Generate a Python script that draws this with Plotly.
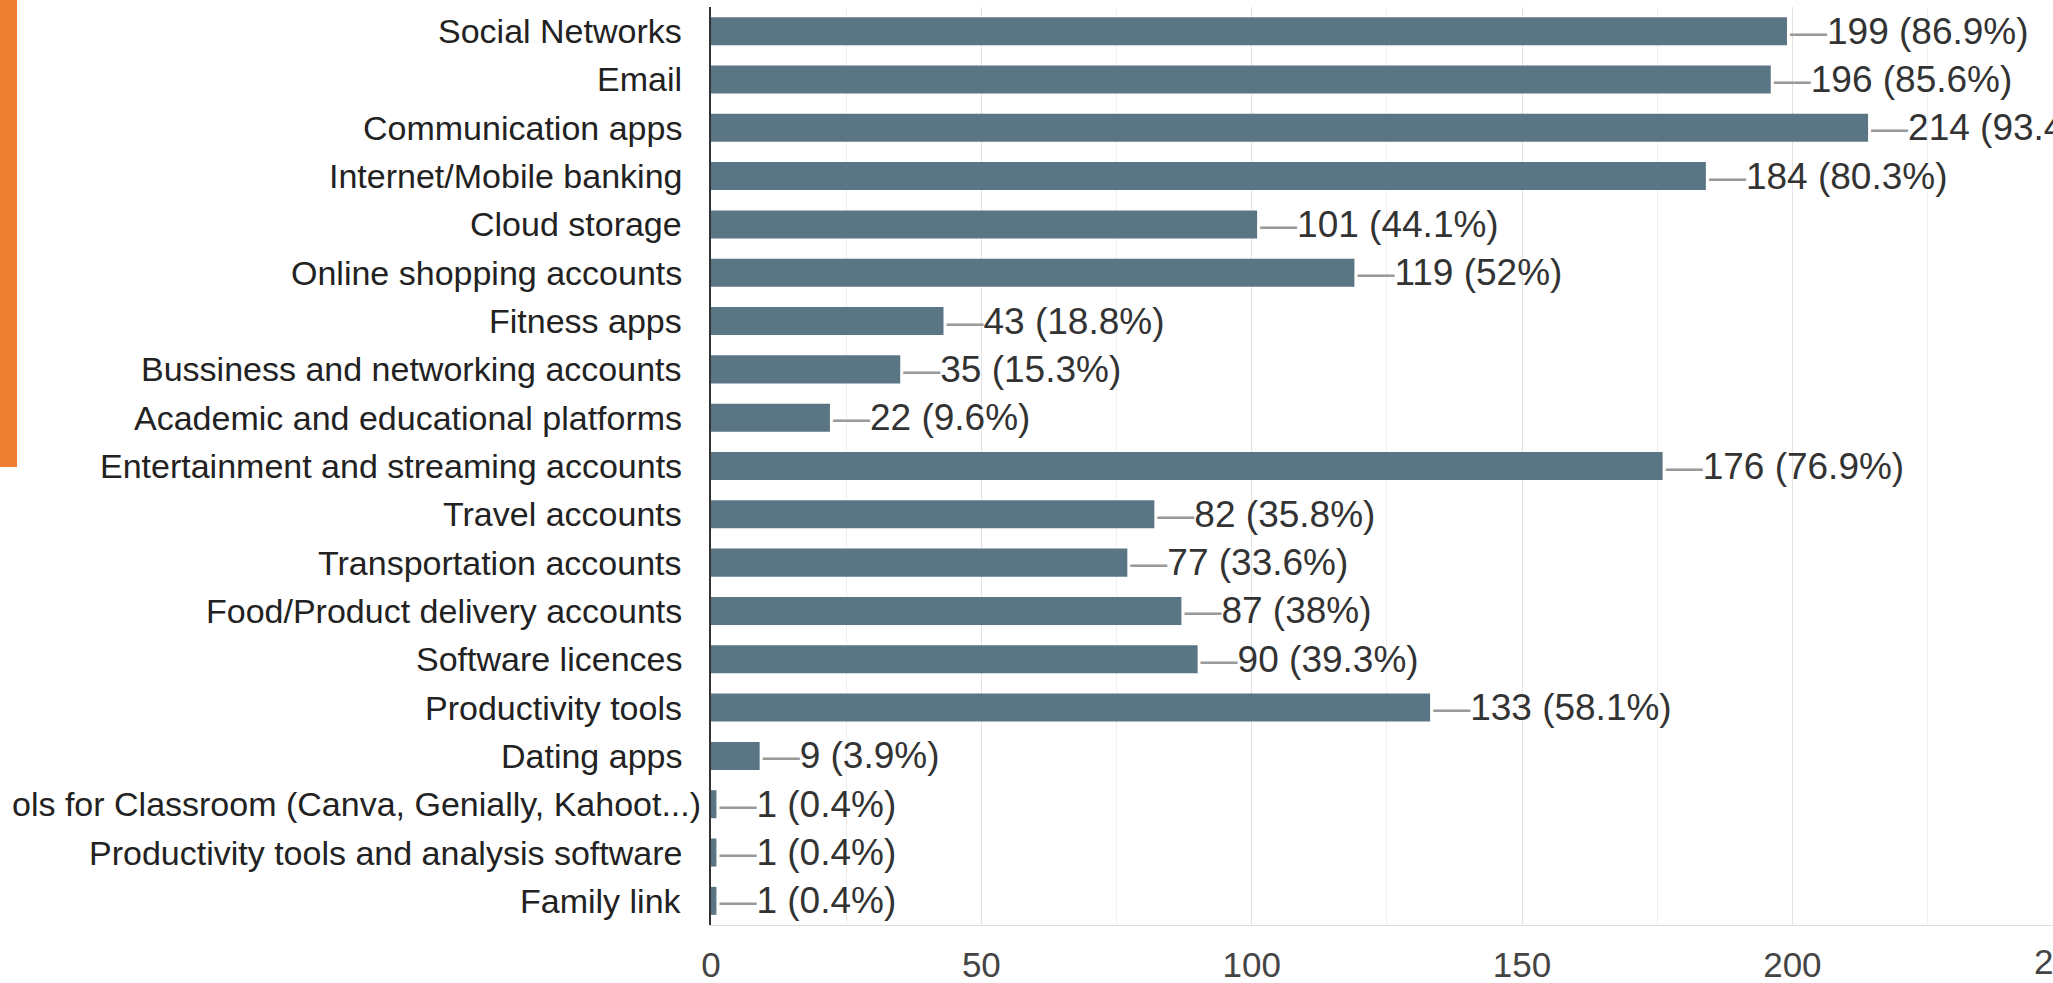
import plotly.graph_objects as go

categories = [
    "Social Networks", "Email", "Communication apps", "Internet/Mobile banking",
    "Cloud storage", "Online shopping accounts", "Fitness apps",
    "Bussiness and networking accounts", "Academic and educational platforms",
    "Entertainment and streaming accounts", "Travel accounts",
    "Transportation accounts", "Food/Product delivery accounts",
    "Software licences", "Productivity tools", "Dating apps",
    "ols for Classroom (Canva, Genially, Kahoot...)",
    "Productivity tools and analysis software", "Family link",
]
counts = [199, 196, 214, 184, 101, 119, 43, 35, 22, 176, 82, 77, 87, 90, 133, 9, 1, 1, 1]
percents = ["86.9%", "85.6%", "93.4%", "80.3%", "44.1%", "52%", "18.8%", "15.3%", "9.6%",
            "76.9%", "35.8%", "33.6%", "38%", "39.3%", "58.1%", "3.9%", "0.4%", "0.4%", "0.4%"]
x_ticks = [0, 50, 100, 150, 200, 250]

X_MAX = 248.2
FONT = "Liberation Sans, Arial, sans-serif"

labels = [f"<span style='color:#9a9a9a'>\u2014</span>{c} ({p})" for c, p in zip(counts, percents)]

fig = go.Figure()
fig.add_trace(go.Bar(
    x=counts, y=categories, orientation="h",
    marker=dict(color="#5a7684", line=dict(width=0)),
    text=labels, textposition="outside", constraintext="none",
    cliponaxis=False,
    textfont=dict(family=FONT, size=37, color="#333333"),
    hoverinfo="skip",
))

# category labels as annotations (the overflowing one sits closer to the axis)
annotations = []
for cat in categories:
    annotations.append(dict(
        text=cat, xref="paper", yref="y", x=0, y=cat,
        xanchor="right", yanchor="middle",
        xshift=-8 if cat.startswith("ols for") else -27,
        showarrow=False,
        font=dict(family=FONT, size=34, color="#222222"),
    ))
annotations.append(dict(
    text=str(x_ticks[-1]), xref="paper", yref="paper",
    x=x_ticks[-1] / X_MAX, y=0, xanchor="center", yanchor="top",
    yshift=-15, showarrow=False,
    font=dict(family=FONT, size=35, color="#444444"),
))

fig.update_layout(
    width=2053, height=983,
    margin=dict(l=711, r=0, t=7, b=58, autoexpand=False),
    paper_bgcolor="white", plot_bgcolor="white",
    bargap=0.42, showlegend=False,
    xaxis=dict(
        range=[0, X_MAX], tickvals=x_ticks[:-1], ticktext=[str(t) for t in x_ticks[:-1]],
        showgrid=True, gridcolor="#e2e2e2", gridwidth=1,
        minor=dict(dtick=25, tick0=0, showgrid=True, gridcolor="#efefef"),
        zeroline=False, showline=True, linecolor="#dddddd", linewidth=1,
        ticks="outside", ticklen=0, ticklabelstandoff=9, automargin=False,
        tickfont=dict(family=FONT, size=35, color="#444444"),
        fixedrange=True,
    ),
    yaxis=dict(
        autorange="reversed", showgrid=False, zeroline=False,
        showline=True, linecolor="#333333", linewidth=2,
        showticklabels=False, ticks="", automargin=False,
        fixedrange=True,
    ),
    shapes=[dict(
        type="rect", xref="paper", yref="paper",
        x0=-711 / 1342, x1=(17 - 711) / 1342, y0=1 + 7 / 918, y1=1 - (467 - 7) / 918,
        fillcolor="#ed7d31", line=dict(width=0), layer="above",
    )],
    annotations=annotations,
)

fig.write_html(
    "out.html",
    config={"displayModeBar": False, "responsive": False},
    post_script="document.body.style.margin='0';document.body.style.overflow='hidden';",
)
